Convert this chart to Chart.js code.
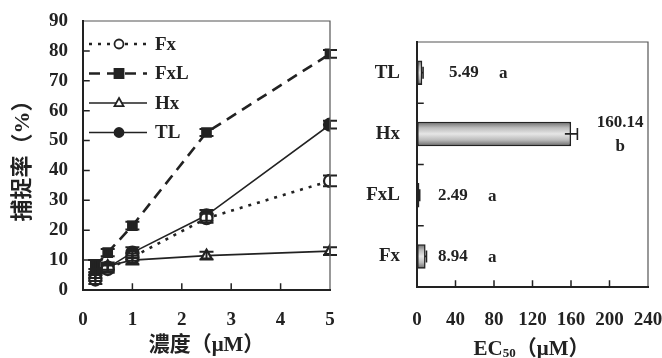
<!DOCTYPE html>
<html><head><meta charset="utf-8">
<script src="https://cdn.jsdelivr.net/npm/chart.js@4.4.1/dist/chart.umd.min.js"></script>
<style>
html,body{margin:0;padding:0;background:#fff;}
#wrap{position:relative;width:662px;height:358px;overflow:hidden;background:#fff;}
canvas{position:absolute;top:0;}
#left{left:0;}
#right{left:330px;}
</style></head><body>
<div id="wrap">
<canvas id="left" width="345" height="358"></canvas>
<canvas id="right" width="332" height="358"></canvas>
</div>
<script>
// Capture rate (%) versus concentration (µM)
const concentrations = [0.25, 0.5, 1, 2.5, 5];
const fxRate  = [3.5, 7, 11, 24, 36.5];
const fxlRate = [8, 12.5, 21.5, 52.7, 79];
const hxRate  = [7, 8, 10, 11.5, 13];
const tlRate  = [5, 7.5, 12.5, 25, 55.3];
const fxErr  = [1.5, 1.2, 1.2, 1.5, 1.8];
const fxlErr = [2, 1.2, 1.3, 1.2, 1.3];
const hxErr  = [3, 1.2, 1.5, 1.3, 1.3];
const tlErr  = [2, 1.2, 1.8, 1.8, 1.3];
const concTicks = [0, 1, 2, 3, 4, 5];
const rateTicks = [0, 10, 20, 30, 40, 50, 60, 70, 80, 90];

// EC50 values (µM)
const ecCompounds = ['TL', 'Hx', 'FxL', 'Fx'];
const ecValues = [5.49, 160.14, 2.49, 8.94];
const ecErrors = [0.8, 6.5, 0.3, 0.9];
const ecGroups = ['a', 'b', 'a', 'a'];
const ecTicks = [0, 40, 80, 120, 160, 200, 240];

const INK = '#222';
const SERIF = '"Liberation Serif", "Times New Roman", serif';
const MIXED = '"Liberation Serif", "Noto Sans CJK TC", "Noto Sans CJK SC", serif';
const TICK_FONT = {family: SERIF, weight: 'bold', size: 19};

// keep the plot area where the layout padding puts it
function noLabelPadding(s) {
  s.paddingLeft = 0; s.paddingRight = 0; s.paddingTop = 0; s.paddingBottom = 0;
}

// frame around the plot area plus inward-pointing tick marks
const framePlugin = {
  id: 'frame',
  afterDraw(chart, args, opts) {
    const {ctx, chartArea: a} = chart;
    const xs = chart.scales.x, ys = chart.scales.y;
    ctx.save();
    ctx.lineCap = 'square';
    ctx.strokeStyle = '#555'; ctx.lineWidth = 1.2;
    ctx.beginPath();
    ctx.moveTo(a.left, a.top); ctx.lineTo(a.right, a.top); ctx.lineTo(a.right, a.bottom);
    ctx.stroke();
    ctx.strokeStyle = INK; ctx.lineWidth = 2;
    ctx.beginPath();
    ctx.moveTo(a.left, a.top); ctx.lineTo(a.left, a.bottom); ctx.lineTo(a.right, a.bottom);
    ctx.stroke();
    ctx.lineWidth = 1.5;
    ctx.beginPath();
    (opts.xMarks || []).forEach(v => {
      const px = xs.getPixelForValue(v);
      ctx.moveTo(px, a.bottom); ctx.lineTo(px, a.bottom - 6);
    });
    (opts.yMarks || []).forEach(v => {
      const py = ys.getPixelForValue(v);
      ctx.moveTo(a.left, py); ctx.lineTo(a.left + 6, py);
    });
    ctx.stroke();
    ctx.restore();
  }
};

// vertical error bars on the line series
const lineErrorPlugin = {
  id: 'lineErrors',
  afterDatasetsDraw(chart) {
    const {ctx} = chart;
    const ys = chart.scales.y;
    ctx.save();
    ctx.strokeStyle = INK; ctx.lineWidth = 2;
    chart.data.datasets.forEach((ds, di) => {
      const meta = chart.getDatasetMeta(di);
      meta.data.forEach((pt, i) => {
        const e = ds.errors[i], v = ds.data[i].y;
        const top = ys.getPixelForValue(v + e), bot = ys.getPixelForValue(v - e);
        ctx.beginPath();
        ctx.moveTo(pt.x, top); ctx.lineTo(pt.x, bot);
        ctx.moveTo(pt.x - 7, top); ctx.lineTo(pt.x + 7, top);
        ctx.moveTo(pt.x - 7, bot); ctx.lineTo(pt.x + 7, bot);
        ctx.stroke();
      });
    });
    ctx.restore();
  }
};

function drawMarker(ctx, style, filled, x, y, r) {
  ctx.beginPath();
  if (style === 'rect') {
    ctx.rect(x - r, y - r, 2 * r, 2 * r);
  } else if (style === 'triangle') {
    ctx.moveTo(x, y - r * 1.1); ctx.lineTo(x + r, y + r * 0.7); ctx.lineTo(x - r, y + r * 0.7); ctx.closePath();
  } else {
    ctx.arc(x, y, r, 0, Math.PI * 2);
  }
  ctx.fillStyle = filled ? INK : '#fff';
  ctx.fill();
  ctx.stroke();
}

// legend inside the upper-left corner of the plot
const innerLegendPlugin = {
  id: 'innerLegend',
  afterDraw(chart) {
    const {ctx, chartArea: a} = chart;
    ctx.save();
    chart.data.datasets.forEach((ds, i) => {
      const y = a.top + 23 + i * 29.5;
      const x0 = a.left + 6, x1 = a.left + 64, xm = a.left + 36;
      ctx.strokeStyle = INK;
      ctx.lineWidth = ds.borderWidth;
      ctx.setLineDash(ds.borderDash || []);
      ctx.beginPath(); ctx.moveTo(x0, y); ctx.lineTo(x1, y); ctx.stroke();
      ctx.setLineDash([]);
      ctx.lineWidth = 1.8;
      drawMarker(ctx, ds.pointStyle, ds.pointBackgroundColor !== '#fff', xm, y, 4.5);
      ctx.fillStyle = INK;
      ctx.font = 'bold 19px ' + SERIF;
      ctx.textAlign = 'left'; ctx.textBaseline = 'middle';
      ctx.fillText(ds.label, a.left + 72, y + 1);
    });
    ctx.restore();
  }
};

function series(label, values, errors, style, filled, dash, width) {
  return {
    label, errors,
    data: values.map((v, i) => ({x: concentrations[i], y: v})),
    borderColor: INK, borderWidth: width, borderDash: dash,
    pointStyle: style, pointRadius: 6, pointBorderWidth: 2.2,
    pointBackgroundColor: filled ? INK : '#fff', pointBorderColor: INK,
    tension: 0, fill: false
  };
}

new Chart(document.getElementById('left'), {
  type: 'line',
  data: {
    datasets: [
      series('Fx', fxRate, fxErr, 'circle', false, [3, 6], 2.6),
      series('FxL', fxlRate, fxlErr, 'rect', true, [11, 7], 2.6),
      series('Hx', hxRate, hxErr, 'triangle', false, [], 1.6),
      series('TL', tlRate, tlErr, 'circle', true, [], 1.6)
    ]
  },
  options: {
    responsive: false, animation: false, devicePixelRatio: 1,
    layout: {padding: {top: 21, right: 15, left: 0, bottom: 0}},
    plugins: {legend: {display: false}, tooltip: {enabled: false},
      frame: {xMarks: concTicks.slice(1, -1), yMarks: rateTicks.slice(1, -1)}},
    scales: {
      x: {
        type: 'linear', min: 0, max: 5,
        afterBuildTicks: s => { s.ticks = concTicks.map(v => ({value: v})); },
        afterFit: s => { s.height = 68; noLabelPadding(s); },
        grid: {display: false, drawTicks: false}, border: {display: false},
        ticks: {color: INK, padding: 19, font: TICK_FONT},
        title: {display: true, text: '濃度（μM）', color: INK, padding: {top: 0, bottom: 0},
          font: {family: MIXED, weight: 'bold', size: 21}}
      },
      y: {
        min: 0, max: 90,
        afterBuildTicks: s => { s.ticks = rateTicks.map(v => ({value: v})); },
        afterFit: s => { s.width = 83; noLabelPadding(s); },
        grid: {display: false, drawTicks: false}, border: {display: false},
        ticks: {color: INK, padding: 15, font: TICK_FONT},
        title: {display: true, text: '捕捉率（%）', color: INK, padding: {top: 10, bottom: 0},
          font: {family: MIXED, weight: 'bold', size: 22}}
      }
    }
  },
  plugins: [framePlugin, lineErrorPlugin, innerLegendPlugin]
});

// shaded fill, error bar and value/letter labels for the EC50 bars
const barDecorPlugin = {
  id: 'barDecor',
  afterDatasetsDraw(chart) {
    const {ctx} = chart;
    const xs = chart.scales.x;
    const meta = chart.getDatasetMeta(0);
    ctx.save();
    meta.data.forEach((bar, i) => {
      const {x, y, base, height} = bar.getProps(['x', 'y', 'base', 'height'], true);
      const top = y - height / 2, bot = y + height / 2;
      if (x - base > 4) {
        const g = ctx.createLinearGradient(0, top, 0, bot);
        g.addColorStop(0, '#666');
        g.addColorStop(0.25, '#bbb');
        g.addColorStop(0.5, '#e6e6e6');
        g.addColorStop(0.75, '#bbb');
        g.addColorStop(1, '#666');
        ctx.fillStyle = g;
        ctx.fillRect(base + 1.5, top + 1.5, x - base - 3, height - 3);
      }
      const e = ecErrors[i];
      const lo = xs.getPixelForValue(ecValues[i] - e), hi = xs.getPixelForValue(ecValues[i] + e);
      ctx.strokeStyle = INK; ctx.lineWidth = 1.6;
      ctx.beginPath();
      ctx.moveTo(lo, y); ctx.lineTo(hi, y);
      ctx.moveTo(hi, y - 6); ctx.lineTo(hi, y + 6);
      ctx.stroke();

      ctx.fillStyle = INK;
      ctx.font = 'bold 17px ' + SERIF;
      ctx.textBaseline = 'middle';
      const label = ecValues[i].toFixed(2);
      if (ecValues[i] > 50) {
        ctx.textAlign = 'center';
        ctx.fillText(label, x + 49, y - 11);
        ctx.fillText(ecGroups[i], x + 49, y + 13);
      } else {
        ctx.textAlign = 'left';
        const x0 = xs.getPixelForValue(0);
        const tx = x0 + (i === 0 ? 32 : 21);
        ctx.fillText(label, tx, y);
        ctx.fillText(ecGroups[i], tx + 50, y + 1);
      }
    });
    ctx.restore();
  }
};

// EC50 axis title with subscript
const ecTitlePlugin = {
  id: 'ecTitle',
  afterDraw(chart) {
    const {ctx, chartArea: a} = chart;
    ctx.save();
    ctx.fillStyle = INK;
    ctx.textBaseline = 'alphabetic'; ctx.textAlign = 'left';
    const big = 'bold 21px ' + MIXED, small = 'bold 13px ' + SERIF;
    ctx.font = big; const w1 = ctx.measureText('EC').width;
    ctx.font = small; const w2 = ctx.measureText('50').width;
    ctx.font = big; const w3 = ctx.measureText('（μM）').width;
    const cx = (a.left + a.right) / 2 - 1;
    let x = cx - (w1 + w2 + w3) / 2;
    const base = 355;
    ctx.font = big; ctx.fillText('EC', x, base); x += w1;
    ctx.font = small; ctx.fillText('50', x, base + 2); x += w2;
    ctx.font = big; ctx.fillText('（μM）', x, base);
    ctx.restore();
  }
};

new Chart(document.getElementById('right'), {
  type: 'bar',
  data: {
    labels: ecCompounds,
    datasets: [{
      data: ecValues,
      backgroundColor: '#bbb', borderColor: INK, borderWidth: 2,
      borderSkipped: false,
      barPercentage: 0.4, categoryPercentage: 1
    }]
  },
  options: {
    indexAxis: 'y',
    responsive: false, animation: false, devicePixelRatio: 1,
    layout: {padding: {top: 42, right: 14, left: 0, bottom: 0}},
    plugins: {legend: {display: false}, tooltip: {enabled: false},
      frame: {xMarks: ecTicks.slice(1, -1), yMarks: [0.5, 1.5, 2.5]}},
    scales: {
      x: {
        type: 'linear', min: 0, max: 240,
        afterBuildTicks: s => { s.ticks = ecTicks.map(v => ({value: v})); },
        afterFit: s => { s.height = 71; noLabelPadding(s); },
        grid: {display: false, drawTicks: false}, border: {display: false},
        ticks: {color: INK, padding: 22, font: TICK_FONT}
      },
      y: {
        afterFit: s => { s.width = 87; noLabelPadding(s); },
        grid: {display: false, drawTicks: false}, border: {display: false},
        ticks: {color: INK, padding: 17, font: TICK_FONT}
      }
    }
  },
  plugins: [framePlugin, barDecorPlugin, ecTitlePlugin]
});
</script>
</body></html>
